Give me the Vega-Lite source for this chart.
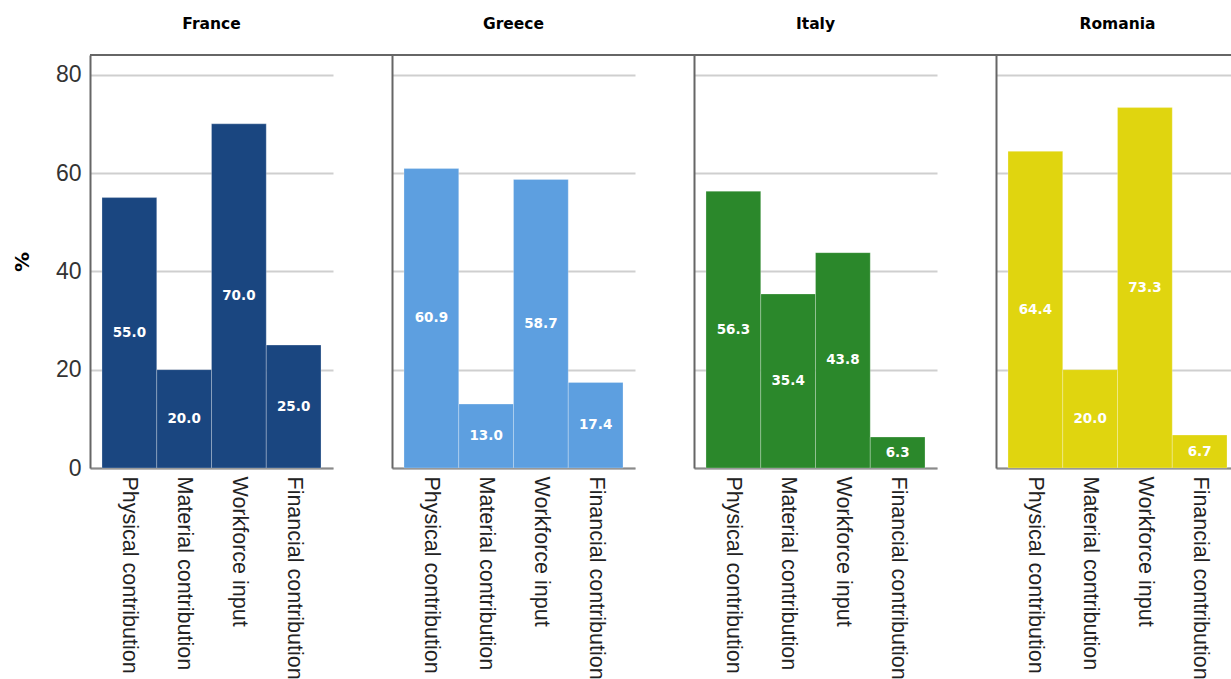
{
  "$schema": "https://vega.github.io/schema/vega-lite/v6.json",
  "padding": {"left": 12, "top": 16, "right": 0, "bottom": 0},
  "background": "white",
  "spacing": 59,
  "bounds": "flush",
  "data": {"values": [
    {"country": "France", "category": "Physical contribution", "value": 55.0},
    {"country": "France", "category": "Material contribution", "value": 20.0},
    {"country": "France", "category": "Workforce input", "value": 70.0},
    {"country": "France", "category": "Financial contribution", "value": 25.0},
    {"country": "Greece", "category": "Physical contribution", "value": 60.9},
    {"country": "Greece", "category": "Material contribution", "value": 13.0},
    {"country": "Greece", "category": "Workforce input", "value": 58.7},
    {"country": "Greece", "category": "Financial contribution", "value": 17.4},
    {"country": "Italy", "category": "Physical contribution", "value": 56.3},
    {"country": "Italy", "category": "Material contribution", "value": 35.4},
    {"country": "Italy", "category": "Workforce input", "value": 43.8},
    {"country": "Italy", "category": "Financial contribution", "value": 6.3},
    {"country": "Romania", "category": "Physical contribution", "value": 64.4},
    {"country": "Romania", "category": "Material contribution", "value": 20.0},
    {"country": "Romania", "category": "Workforce input", "value": 73.3},
    {"country": "Romania", "category": "Financial contribution", "value": 6.7}
  ]},
  "config": {
    "view": {"stroke": null},
    "title": {"font": "DejaVu Sans", "fontSize": 15.5, "fontWeight": "bold", "color": "black", "offset": 22, "anchor": "middle"},
    "axis": {"labelFont": "Liberation Sans", "titleFont": "DejaVu Sans"}
  },
  "hconcat": [
    {
      "title": "France",
      "width": 243, "height": 413,
      "transform": [{"filter": "datum.country === 'France'"}],
      "layer": [
        {
          "mark": {"type": "bar", "stroke": "white", "strokeOpacity": 0.25, "strokeWidth": 1},
          "encoding": {
            "x": {"field": "category", "type": "nominal", "sort": ["Physical contribution", "Material contribution", "Workforce input", "Financial contribution"], "scale": {"paddingInner": 0, "paddingOuter": 0.219},
                  "axis": {"title": null, "labelAngle": 90, "ticks": false, "labelPadding": 8, "labelFontSize": 21.5, "labelColor": "#222", "labelLimit": 0, "domainColor": "#8a8a8a", "domainWidth": 2}},
            "y": {"field": "value", "type": "quantitative", "scale": {"domain": [0, 84]},
                  "axis": {"values": [0, 20, 40, 60, 80], "grid": true, "gridColor": "#cfcfcf", "gridWidth": 2, "ticks": false, "labelPadding": 9, "labelFontSize": 23, "labelColor": "#333", "domainColor": "#666", "domainWidth": 2, "title": "%", "titleFontSize": 20, "titleFontWeight": "bold", "titleColor": "black", "titlePadding": 23}},
            "color": {"field": "country", "type": "nominal", "scale": {"domain": ["France", "Greece", "Italy", "Romania"], "range": ["#1a4680", "#5d9fe0", "#2b882b", "#e0d50f"]}, "legend": null}
          }
        },
        {
          "mark": {"type": "text", "color": "white", "font": "DejaVu Sans", "fontWeight": "bold", "fontSize": 13.5, "baseline": "middle", "align": "center"},
          "encoding": {
            "x": {"field": "category", "type": "nominal", "sort": ["Physical contribution", "Material contribution", "Workforce input", "Financial contribution"]},
            "y": {"field": "value", "type": "quantitative", "scale": {"domain": [0, 168]}, "axis": null},
            "text": {"field": "value", "type": "quantitative", "format": ".1f"}
          }
        },
        {
          "mark": {"type": "rule", "color": "#666", "strokeWidth": 2},
          "encoding": {
            "x": {"datum": "Physical contribution", "type": "nominal", "bandPosition": -0.219},
            "x2": {"datum": "Financial contribution", "bandPosition": 2.297},
            "y": {"datum": 84, "type": "quantitative", "scale": {"domain": [0, 84]}, "axis": null}
          }
        }
      ],
      "resolve": {"scale": {"y": "independent"}}
    },
    {
      "title": "Greece",
      "width": 243, "height": 413,
      "transform": [{"filter": "datum.country === 'Greece'"}],
      "layer": [
        {
          "mark": {"type": "bar", "stroke": "white", "strokeOpacity": 0.25, "strokeWidth": 1},
          "encoding": {
            "x": {"field": "category", "type": "nominal", "sort": ["Physical contribution", "Material contribution", "Workforce input", "Financial contribution"], "scale": {"paddingInner": 0, "paddingOuter": 0.219},
                  "axis": {"title": null, "labelAngle": 90, "ticks": false, "labelPadding": 8, "labelFontSize": 21.5, "labelColor": "#222", "labelLimit": 0, "domainColor": "#8a8a8a", "domainWidth": 2}},
            "y": {"field": "value", "type": "quantitative", "scale": {"domain": [0, 84]},
                  "axis": {"values": [0, 20, 40, 60, 80], "grid": true, "gridColor": "#cfcfcf", "gridWidth": 2, "ticks": false, "labels": false, "domainColor": "#666", "domainWidth": 2, "title": null}},
            "color": {"field": "country", "type": "nominal", "scale": {"domain": ["France", "Greece", "Italy", "Romania"], "range": ["#1a4680", "#5d9fe0", "#2b882b", "#e0d50f"]}, "legend": null}
          }
        },
        {
          "mark": {"type": "text", "color": "white", "font": "DejaVu Sans", "fontWeight": "bold", "fontSize": 13.5, "baseline": "middle", "align": "center"},
          "encoding": {
            "x": {"field": "category", "type": "nominal", "sort": ["Physical contribution", "Material contribution", "Workforce input", "Financial contribution"]},
            "y": {"field": "value", "type": "quantitative", "scale": {"domain": [0, 168]}, "axis": null},
            "text": {"field": "value", "type": "quantitative", "format": ".1f"}
          }
        },
        {
          "mark": {"type": "rule", "color": "#666", "strokeWidth": 2},
          "encoding": {
            "x": {"datum": "Physical contribution", "type": "nominal", "bandPosition": -0.219},
            "x2": {"datum": "Financial contribution", "bandPosition": 2.297},
            "y": {"datum": 84, "type": "quantitative", "scale": {"domain": [0, 84]}, "axis": null}
          }
        }
      ],
      "resolve": {"scale": {"y": "independent"}}
    },
    {
      "title": "Italy",
      "width": 243, "height": 413,
      "transform": [{"filter": "datum.country === 'Italy'"}],
      "layer": [
        {
          "mark": {"type": "bar", "stroke": "white", "strokeOpacity": 0.25, "strokeWidth": 1},
          "encoding": {
            "x": {"field": "category", "type": "nominal", "sort": ["Physical contribution", "Material contribution", "Workforce input", "Financial contribution"], "scale": {"paddingInner": 0, "paddingOuter": 0.219},
                  "axis": {"title": null, "labelAngle": 90, "ticks": false, "labelPadding": 8, "labelFontSize": 21.5, "labelColor": "#222", "labelLimit": 0, "domainColor": "#8a8a8a", "domainWidth": 2}},
            "y": {"field": "value", "type": "quantitative", "scale": {"domain": [0, 84]},
                  "axis": {"values": [0, 20, 40, 60, 80], "grid": true, "gridColor": "#cfcfcf", "gridWidth": 2, "ticks": false, "labels": false, "domainColor": "#666", "domainWidth": 2, "title": null}},
            "color": {"field": "country", "type": "nominal", "scale": {"domain": ["France", "Greece", "Italy", "Romania"], "range": ["#1a4680", "#5d9fe0", "#2b882b", "#e0d50f"]}, "legend": null}
          }
        },
        {
          "mark": {"type": "text", "color": "white", "font": "DejaVu Sans", "fontWeight": "bold", "fontSize": 13.5, "baseline": "middle", "align": "center"},
          "encoding": {
            "x": {"field": "category", "type": "nominal", "sort": ["Physical contribution", "Material contribution", "Workforce input", "Financial contribution"]},
            "y": {"field": "value", "type": "quantitative", "scale": {"domain": [0, 168]}, "axis": null},
            "text": {"field": "value", "type": "quantitative", "format": ".1f"}
          }
        },
        {
          "mark": {"type": "rule", "color": "#666", "strokeWidth": 2},
          "encoding": {
            "x": {"datum": "Physical contribution", "type": "nominal", "bandPosition": -0.219},
            "x2": {"datum": "Financial contribution", "bandPosition": 2.297},
            "y": {"datum": 84, "type": "quantitative", "scale": {"domain": [0, 84]}, "axis": null}
          }
        }
      ],
      "resolve": {"scale": {"y": "independent"}}
    },
    {
      "title": "Romania",
      "width": 243, "height": 413,
      "transform": [{"filter": "datum.country === 'Romania'"}],
      "layer": [
        {
          "mark": {"type": "bar", "stroke": "white", "strokeOpacity": 0.25, "strokeWidth": 1},
          "encoding": {
            "x": {"field": "category", "type": "nominal", "sort": ["Physical contribution", "Material contribution", "Workforce input", "Financial contribution"], "scale": {"paddingInner": 0, "paddingOuter": 0.219},
                  "axis": {"title": null, "labelAngle": 90, "ticks": false, "labelPadding": 8, "labelFontSize": 21.5, "labelColor": "#222", "labelLimit": 0, "domainColor": "#8a8a8a", "domainWidth": 2}},
            "y": {"field": "value", "type": "quantitative", "scale": {"domain": [0, 84]},
                  "axis": {"values": [0, 20, 40, 60, 80], "grid": true, "gridColor": "#cfcfcf", "gridWidth": 2, "ticks": false, "labels": false, "domainColor": "#666", "domainWidth": 2, "title": null}},
            "color": {"field": "country", "type": "nominal", "scale": {"domain": ["France", "Greece", "Italy", "Romania"], "range": ["#1a4680", "#5d9fe0", "#2b882b", "#e0d50f"]}, "legend": null}
          }
        },
        {
          "mark": {"type": "text", "color": "white", "font": "DejaVu Sans", "fontWeight": "bold", "fontSize": 13.5, "baseline": "middle", "align": "center"},
          "encoding": {
            "x": {"field": "category", "type": "nominal", "sort": ["Physical contribution", "Material contribution", "Workforce input", "Financial contribution"]},
            "y": {"field": "value", "type": "quantitative", "scale": {"domain": [0, 168]}, "axis": null},
            "text": {"field": "value", "type": "quantitative", "format": ".1f"}
          }
        },
        {
          "mark": {"type": "rule", "color": "#666", "strokeWidth": 2},
          "encoding": {
            "x": {"datum": "Physical contribution", "type": "nominal", "bandPosition": -0.219},
            "x2": {"datum": "Financial contribution", "bandPosition": 2.297},
            "y": {"datum": 84, "type": "quantitative", "scale": {"domain": [0, 84]}, "axis": null}
          }
        }
      ],
      "resolve": {"scale": {"y": "independent"}}
    }
  ]
}
